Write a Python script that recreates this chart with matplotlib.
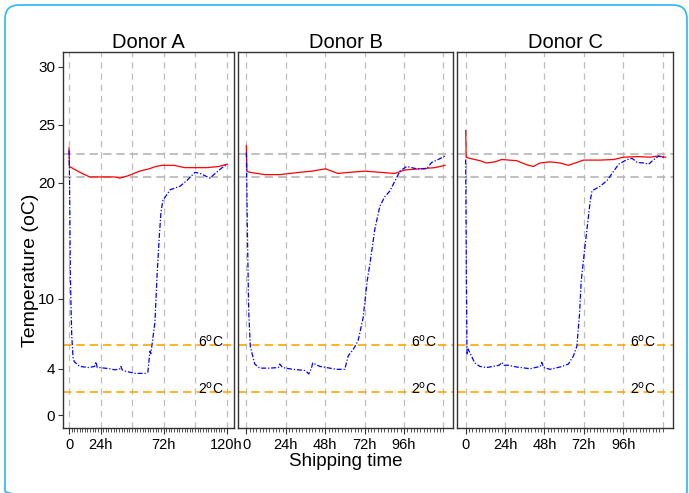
import matplotlib
matplotlib.use('Agg')
import matplotlib.pyplot as plt
from matplotlib.patches import FancyBboxPatch

plt.rcParams['font.family'] = ['Liberation Sans', 'DejaVu Sans']

# ---- data (hours, degC) ----
donors = ['Donor A', 'Donor B', 'Donor C']

a_red_t = [0, 0.3, 5, 10, 15.7, 25, 35, 38.5, 45, 53.7, 61, 66, 71, 80, 88, 95, 105, 114, 120.4]
a_red_v = [23.0, 21.4, 21.1, 20.8, 20.5, 20.5, 20.5, 20.4, 20.6, 21.0, 21.2, 21.4, 21.5, 21.5, 21.3, 21.3, 21.3, 21.4, 21.6]
a_blue_t = [0, 0.4, 1.0, 2.0, 3.0, 4.0, 8.2, 15, 19.5, 20.4, 21.5, 23.4, 31, 34.9, 38.8, 39.5, 40.5, 42.5, 50.2,
            57.8, 60, 61.6, 62.3, 63.1, 65.4, 67, 68.5, 70, 71.5, 74.6, 77, 84.5, 89.8, 95.9, 99.8, 103.6,
            107.4, 111.2, 116.6, 120.4]
a_blue_v = [22.8, 20.0, 12.0, 7.0, 5.0, 4.6, 4.2, 4.1, 4.2, 4.6, 4.1, 4.1, 4.0, 3.9, 4.0, 4.2, 3.9, 3.8, 3.6,
            3.6, 3.7, 5.5, 5.3, 6.0, 8.0, 12.0, 15.0, 17.5, 18.5, 19.0, 19.4, 19.7, 20.2, 20.9, 20.8, 20.6,
            20.4, 20.8, 21.3, 21.6]

b_red_t = [0, 0.3, 2, 11.2, 20.3, 26.4, 32.5, 40, 48.2, 55.7, 62.9, 72.1, 81.3, 90.4, 96.5, 105.7, 114.8, 120.9]
b_red_v = [23.2, 21.0, 20.9, 20.7, 20.7, 20.8, 20.9, 21.0, 21.2, 20.8, 20.9, 21.0, 20.9, 20.8, 21.1, 21.2, 21.3, 21.5]
b_blue_t = [0, 0.6, 1.4, 2.4, 5.1, 8.1, 14.2, 19.5, 20.3, 22.1, 28.2, 35.5, 37, 38, 39.6, 40.4, 44.7, 48.8,
            54.9, 59.9, 62, 65, 68, 71.1, 73.5, 75.2, 78.2, 81.3, 84.3, 87.4, 93.5, 97.6, 103.7, 109.8,
            112.8, 116.8, 120.9]
b_blue_v = [22.6, 16.0, 9.0, 5.9, 4.4, 4.05, 4.05, 4.1, 4.4, 4.1, 3.95, 3.85, 3.7, 3.55, 4.05, 4.5, 4.2, 4.1,
            3.95, 3.95, 5.1, 5.65, 6.4, 8.4, 11.5, 13.0, 16.0, 18.0, 18.8, 19.3, 21.0, 21.4, 21.2, 21.2,
            21.75, 22.0, 22.3]

c_red_t = [0, 0.3, 2.4, 8.6, 12.7, 17.8, 21.9, 31, 37.2, 41.2, 45.3, 51.4, 57.6, 62.6, 67.8, 71.8, 82, 90.2,
           96.3, 104.5, 112.6, 116.8, 121.9]
c_red_v = [24.5, 22.2, 22.1, 21.9, 21.7, 21.8, 22.0, 21.9, 21.55, 21.4, 21.7, 21.8, 21.7, 21.5, 21.75, 21.95,
           21.95, 22.0, 22.2, 22.25, 22.2, 22.3, 22.2]
c_blue_t = [0, 0.4, 0.8, 1.4, 3.5, 5.5, 8.6, 12.7, 16.7, 20.5, 21.9, 23.5, 25.9, 31, 39.2, 45.5, 46.4, 47.5,
            51.4, 57.6, 62.6, 65.7, 67.8, 69.4, 70.4, 72.3, 75.9, 77, 82, 86.2, 93.3, 98.4, 101.5, 104.5,
            108.6, 111.6, 114.7, 117.8, 121.9]
c_blue_v = [22.0, 12.0, 5.2, 5.7, 5.1, 4.5, 4.2, 4.1, 4.2, 4.3, 4.55, 4.3, 4.3, 4.15, 4.0, 4.2, 4.55, 4.1,
            3.95, 4.15, 4.4, 5.1, 5.95, 8.7, 11.5, 14.0, 18.4, 19.3, 19.7, 20.2, 21.6, 22.0, 22.1, 21.75,
            21.7, 21.6, 22.0, 22.3, 22.1]

reds = [(a_red_t, a_red_v), (b_red_t, b_red_v), (c_red_t, c_red_v)]
blues = [(a_blue_t, a_blue_v), (b_blue_t, b_blue_v), (c_blue_t, c_blue_v)]

x_lims = [(-4.6, 125.6), (-5.1, 125.8), (-5.3, 126.4)]
x_breaks = [[0, 24, 72, 120], [0, 24, 48, 72, 96], [0, 24, 48, 72, 96]]
x_labels = [['0', '24h', '72h', '120h'], ['0', '24h', '48h', '72h', '96h'], ['0', '24h', '48h', '72h', '96h']]
vlines = [0, 24, 48, 72, 96, 120]
ambient_band = [20.5, 22.5]
fridge_band = [2, 6]
y_breaks = [0, 4, 10, 20, 25, 30]

W, H = 689, 493
fig = plt.figure(figsize=(W / 100, H / 100), dpi=100)

# rounded light-blue frame
bg = fig.add_axes([0, 0, 1, 1])
bg.set_xlim(0, W)
bg.set_ylim(H, 0)
bg.axis('off')
bg.add_patch(FancyBboxPatch((5, 5), 682, 500, boxstyle='round,pad=0,rounding_size=14',
                            fill=False, ec='#29b6f6', lw=1.2))

# panel boxes in pixels (left, right)
panels = [(63, 234), (238, 453), (457, 673)]
top, bottom = 52, 428

for i, (l, r) in enumerate(panels):
    ax = fig.add_axes([l / W, 1 - bottom / H, (r - l) / W, (bottom - top) / H])
    for v in vlines:
        ax.axvline(v, color='#bdbdbd', ls=(0, (5, 4)), lw=0.9, zorder=1)
    for h in ambient_band:
        ax.axhline(h, color='#b5b5b5', ls=(0, (5, 3)), lw=1.2, zorder=1)
    for h in fridge_band:
        ax.axhline(h, color='#ffa500', ls=(0, (5, 3)), lw=1.2, zorder=1)
    ax.plot(*reds[i], color='#ff0000', lw=0.9, zorder=3)
    ax.plot(*blues[i], color='#0000ff', lw=0.9, ls=(0, (4, 1.5, 1, 1.5)), zorder=3)
    ax.text(108, 6.35, '6$^{\\mathrm{o}}$C', fontsize=10, ha='center', va='center', zorder=4)
    ax.text(108, 2.3, '2$^{\\mathrm{o}}$C', fontsize=10, ha='center', va='center', zorder=4)

    ax.set_xlim(*x_lims[i])
    ax.set_ylim(-1.1, 31.25)
    ax.set_xticks(x_breaks[i])
    ax.set_xticklabels(x_labels[i])
    ax.set_xticks(range(0, 121, 2), minor=True)
    ax.tick_params(axis='x', which='major', length=4, width=0.8, color='#333333', labelsize=10.5, pad=3)
    ax.tick_params(axis='x', which='minor', length=3, width=0.6, color='#333333')
    ax.set_yticks(y_breaks)
    if i == 0:
        ax.tick_params(axis='y', length=3.5, width=0.8, color='#333333', labelsize=11, pad=2)
        ax.set_ylabel('Temperature (oC)', fontsize=14)
        ax.yaxis.set_label_coords(-0.14, 0.42)
    else:
        ax.tick_params(axis='y', left=False, labelleft=False)
    for s in ax.spines.values():
        s.set_color('#333333')
        s.set_linewidth(1.0)
    ax.set_title(donors[i], fontsize=14.5, pad=3)
    if i == 1:
        ax.set_xlabel('Shipping time', fontsize=13.5, labelpad=1)

fig.savefig('out.png', dpi=100, facecolor='white')
